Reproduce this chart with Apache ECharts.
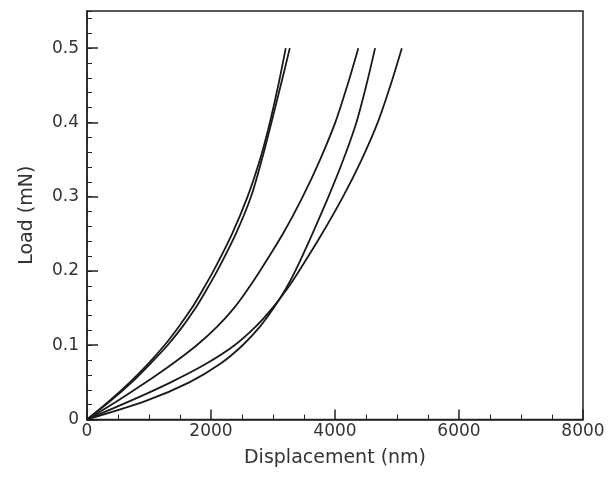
<!DOCTYPE html>
<html>
<head>
<meta charset="utf-8">
<script src="https://cdn.jsdelivr.net/npm/echarts@6/dist/echarts.min.js"></script>
<style>
  html, body { margin: 0; padding: 0; background: #fff; }
  #chart { width: 610px; height: 482px; }
</style>
</head>
<body>
<div id="chart"></div>
<script>
// Load levels (mN) shared by every loading curve
const loads = [0, 0.025, 0.05, 0.075, 0.1, 0.125, 0.15, 0.175, 0.2, 0.25, 0.3, 0.35, 0.4, 0.45, 0.5];

// Displacement (nm) of each indentation at the load levels above
const dispA = [0, 360, 690, 985, 1250, 1480, 1690, 1870, 2040, 2340, 2590, 2790, 2950, 3085, 3206];
const dispB = [0, 380, 720, 1020, 1300, 1540, 1750, 1930, 2100, 2400, 2645, 2820, 2975, 3125, 3271];
const dispC = [0, 490, 950, 1380, 1770, 2100, 2370, 2590, 2790, 3160, 3480, 3760, 4005, 4200, 4376];
const dispD = [0, 950, 1650, 2150, 2510, 2790, 3010, 3200, 3360, 3635, 3895, 4135, 4345, 4505, 4647];
const dispE = [0, 700, 1350, 1920, 2380, 2720, 2990, 3220, 3420, 3790, 4130, 4430, 4690, 4895, 5078];

const curves = [dispA, dispB, dispC, dispD, dispE];

// Axis tick labels
const xTicks = [0, 2000, 4000, 6000, 8000];
const yTicks = [0, 0.1, 0.2, 0.3, 0.4, 0.5];

const ink = '#222';
const textColor = '#333';
const font = '"DejaVu Sans", Verdana, sans-serif';

const chart = echarts.init(document.getElementById('chart'), null, { renderer: 'canvas' });

const series = curves.map(function (disp, i) {
  return {
    name: 'curve' + (i + 1),
    type: 'line',
    xAxisIndex: 0,
    yAxisIndex: 0,
    showSymbol: false,
    smooth: 0.3,
    lineStyle: { color: '#1a1a1a', width: 1.8 },
    data: disp.map(function (x, k) { return [x, loads[k]]; }),
    z: 5
  };
});

chart.setOption({
  animation: false,
  backgroundColor: '#fff',
  grid: {
    left: 87, right: 27, top: 11, bottom: 62.5,
    show: true, borderColor: ink, borderWidth: 1.5, backgroundColor: 'transparent'
  },
  xAxis: [{
    type: 'value',
    min: xTicks[0], max: xTicks[xTicks.length - 1], interval: 2000,
    name: 'Displacement (nm)',
    nameLocation: 'middle', nameGap: 29,
    nameTextStyle: { color: textColor, fontSize: 19, fontFamily: font },
    axisLine: { show: true, lineStyle: { color: ink, width: 1.5 } },
    axisTick: { show: true, inside: true, length: 10, lineStyle: { color: ink, width: 1.5 } },
    minorTick: { show: true, splitNumber: 4, length: 5, lineStyle: { color: ink, width: 1 } },
    axisLabel: {
      color: textColor, fontSize: 17, fontFamily: font, margin: 4,
      formatter: function (v) { return xTicks.indexOf(v) >= 0 ? String(v) : ''; }
    },
    splitLine: { show: false }
  }],
  yAxis: [{
    type: 'value',
    min: 0, max: 0.55, interval: 0.1,
    name: 'Load (mN)',
    nameLocation: 'middle', nameGap: 50,
    nameTextStyle: { color: textColor, fontSize: 19, fontFamily: font },
    axisLine: { show: true, lineStyle: { color: ink, width: 1.5 } },
    axisTick: { show: true, inside: true, length: 11, lineStyle: { color: ink, width: 1.5 } },
    axisLabel: {
      color: textColor, fontSize: 17, fontFamily: font, margin: 8,
      showMaxLabel: false,
      formatter: function (v) {
        const r = Math.round(v * 10) / 10;
        return Math.abs(r - v) < 1e-9 && yTicks.indexOf(r) >= 0 ? String(r) : '';
      }
    },
    splitLine: { show: false }
  }, {
    // minor ticks every 0.02 mN
    type: 'value',
    position: 'left',
    min: 0, max: 0.55, interval: 0.02,
    axisLine: { show: false },
    axisTick: { show: true, inside: true, length: 5, lineStyle: { color: ink, width: 1 } },
    axisLabel: { show: false },
    splitLine: { show: false }
  }],
  series: series
});
</script>
</body>
</html>
